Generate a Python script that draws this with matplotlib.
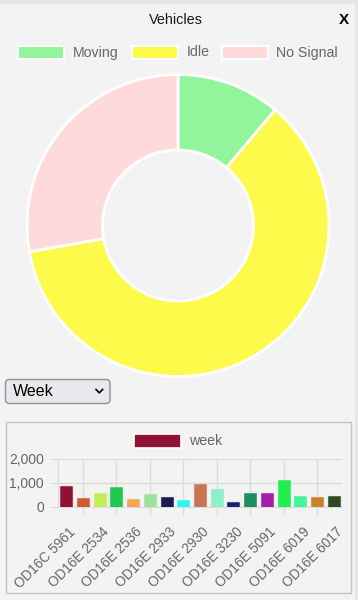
import matplotlib
matplotlib.use("Agg")
import matplotlib.pyplot as plt
from matplotlib.patches import Rectangle, FancyBboxPatch
from matplotlib.colors import to_rgba
from matplotlib.ticker import FuncFormatter

plt.rcParams['font.family'] = ['Liberation Sans', 'DejaVu Sans']

# Doughnut data
status_labels = ['Moving', 'Idle', 'No Signal']
status_counts = [4, 22, 10]
status_colors = ['#92f49b', '#fdfa4c', '#ffdada']

# Weekly bar data (17 vehicles, only every second label is shown)
week_values = [868, 365, 574, 851, 348, 558, 407, 306, 964,
               742, 210, 574, 587, 1145, 448, 407, 448]
week_colors = ['#8f1133', '#d05a30', '#c1ee52', '#1ec94e', '#f4a453', '#9ee39a',
               '#1d1a4f', '#2ef5f0', '#c97454', '#8cf0c8', '#1a1f78', '#1a9060',
               '#a020a8', '#20ee50', '#40f59a', '#cc8028', '#304a20']
shown_labels = ['OD16C 5961', 'OD16E 2534', 'OD16E 2536', 'OD16E 2933', 'OD16E 2930',
                'OD16E 3230', 'OD16E 5091', 'OD16E 6019', 'OD16E 6017']
y_ticks = [0, 1000, 2000]

W, H = 358, 600
BG = '#f3f3f3'
GRID = '#dcdcdc'
TXT = '#666666'


def px(x, y, w, h):
    # pixel box (top-left origin) -> figure fraction rect
    return [x / W, 1 - (y + h) / H, w / W, h / H]


fig = plt.figure(figsize=(W / 100, H / 100), dpi=100, facecolor=BG)

# overlay in pixel coords for the page decorations
deco = fig.add_axes([0, 0, 1, 1])
deco.set_xlim(0, W)
deco.set_ylim(H, 0)
deco.axis('off')

deco.add_patch(Rectangle((0, 0), W, 4, color='#e6e6e6', lw=0))
deco.add_patch(Rectangle((355, 0), 3, H, color='#e6e6e6', lw=0))

deco.text(175.5, 19.5, 'Vehicles', fontsize=10.4, color='#1a1a1a', ha='center', va='center')
deco.text(344, 20.5, 'X', fontsize=11, fontweight='bold', color='black', ha='center', va='center')

# top legend
leg_x = [18, 131.5, 221.5]
for lx, lab, col in zip(leg_x, status_labels, status_colors):
    deco.add_patch(Rectangle((lx, 46), 46, 13, facecolor=col, edgecolor='white', lw=1.5))
    deco.text(lx + 55, 52.5, lab, fontsize=10.2, color=TXT, ha='left', va='center')

# dropdown
deco.add_patch(FancyBboxPatch((5.5, 379.5), 104.5, 24, boxstyle='round,pad=0,rounding_size=4',
                              facecolor='#e9e9ed', edgecolor='#8f8f9d', lw=1))
deco.text(12.5, 391.5, 'Week', fontsize=11.5, color='black', ha='left', va='center')
deco.plot([96, 99.3, 102.6], [389.5, 392.8, 389.5], color='black', lw=1.2)

# bar chart panel
deco.add_patch(Rectangle((5.5, 421.5), 345, 171, facecolor=BG, edgecolor='#c4c4c4', lw=1))
deco.add_patch(Rectangle((134, 434), 47, 14, facecolor=week_colors[0], edgecolor='white', lw=1.2))
deco.text(189, 441, 'week', fontsize=10.2, color=TXT, ha='left', va='center')

# doughnut
cx, cy, r = 178, 225.5, 152.5
ax_d = fig.add_axes(px(cx - r, cy - r, 2 * r, 2 * r))
ax_d.pie(status_counts, colors=status_colors, startangle=90, counterclock=False, radius=1,
         wedgeprops=dict(width=0.5, edgecolor='white', linewidth=2))
ax_d.set_xlim(-1.01, 1.01)
ax_d.set_ylim(-1.01, 1.01)
ax_d.axis('off')

# bar chart
ax_b = fig.add_axes(px(58, 459, 284, 48))
ax_b.set_facecolor('none')
xs = list(range(len(week_values)))
ax_b.bar(xs, week_values, width=0.72, color=week_colors,
         edgecolor=[to_rgba(c, 0.55) for c in week_colors], linewidth=0.8, zorder=3)
ax_b.set_xlim(-0.5, len(week_values) - 0.5)
ax_b.set_ylim(0, 2000)
ax_b.set_yticks(y_ticks)
ax_b.yaxis.set_major_formatter(FuncFormatter(lambda v, p: f'{int(v):,}'))
ax_b.set_xticks(xs[1::2])
ax_b.set_xticklabels([])
ax_b.grid(True, color=GRID, lw=1)
ax_b.tick_params(axis='both', length=6, color=GRID, width=1)
ax_b.tick_params(axis='y', labelsize=10, labelcolor=TXT, pad=4)
for s in ['top', 'right']:
    ax_b.spines[s].set_visible(False)
for s in ['left', 'bottom']:
    ax_b.spines[s].set_color(GRID)

for i, lab in zip(xs[::2], shown_labels):
    ax_b.annotate(lab, xy=(i, 0), xycoords=('data', 'axes fraction'),
                  xytext=(7, -23), textcoords='offset pixels',
                  rotation=45, rotation_mode='anchor', ha='right', va='center',
                  fontsize=9.8, color=TXT)

fig.savefig('out.png', dpi=100, facecolor=BG)
